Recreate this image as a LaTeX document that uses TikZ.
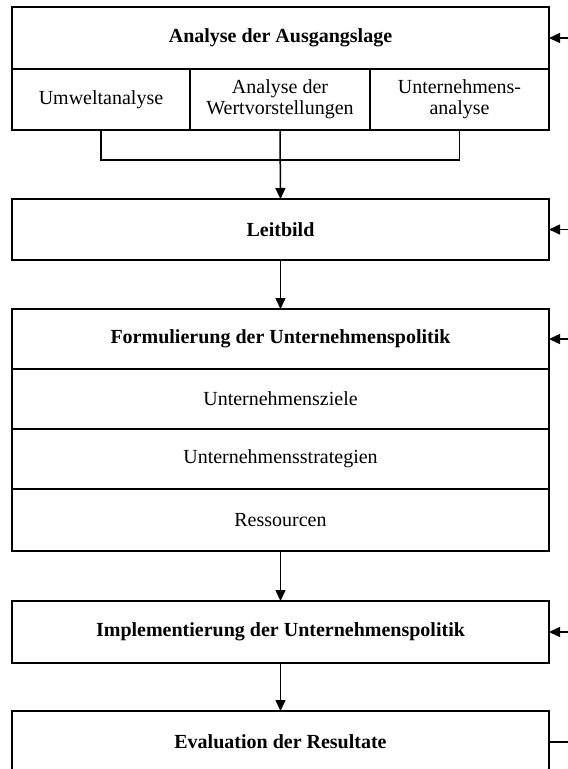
\documentclass[tikz,border=0pt]{standalone}
\usepackage{fontspec}
\setmainfont{Liberation Serif}
\usetikzlibrary{arrows.meta}
\begin{document}
\begin{tikzpicture}[x=1pt,y=-1pt,
  line width=1.5pt,
  cell/.style={draw, rectangle, inner sep=0pt, outer sep=0pt, align=center,
    font=\fontsize{20}{21}\selectfont},
  head/.style={cell, font=\fontsize{20}{21}\selectfont\bfseries},
  flow/.style={-{Triangle[length=11pt,width=10pt]}},
  back/.style={{Triangle[length=11pt,width=10pt]}-}]
\useasboundingbox (0,0) rectangle (568,769);
% Analyse der Ausgangslage
\node[head, minimum width=537pt, minimum height=62pt] (ausgang) at (280.5,38) {Analyse der Ausgangslage};
\node[cell, minimum width=178pt, minimum height=61pt] (umwelt) at (101,99.5) {Umweltanalyse};
\node[cell, minimum width=180pt, minimum height=61pt] (werte) at (280,99.5) {Analyse der\\Wertvorstellungen};
\node[cell, minimum width=179pt, minimum height=61pt] (intern) at (459.5,99.5) {Unternehmens-\\analyse};
% Leitbild
\node[head, minimum width=537pt, minimum height=61pt] (leitbild) at (280.5,229.5) {Leitbild};
% Formulierung der Unternehmenspolitik
\node[head, minimum width=537pt, minimum height=60pt] (formul) at (280.5,339) {Formulierung der Unternehmenspolitik};
\node[cell, minimum width=537pt, minimum height=60pt] (ziele) at (280.5,399) {Unternehmensziele};
\node[cell, minimum width=537pt, minimum height=60pt] (strat) at (280.5,459) {Unternehmensstrategien};
\node[cell, minimum width=537pt, minimum height=62pt] (ressourcen) at (280.5,520) {Ressourcen};
% Implementierung und Evaluation
\node[head, minimum width=537pt, minimum height=62pt] (implement) at (280.5,632) {Implementierung der Unternehmenspolitik};
\node[head, minimum width=537pt, minimum height=62pt] (eval) at (280.5,742) {Evaluation der Resultate};
% bracket joining the three analyses
\coordinate (join) at (280,160);
\draw (umwelt.south) |- (join) -| (intern.south);
\draw[flow] (werte.south) -- (leitbild.north);
% main flow
\draw[flow] (leitbild.south) -- (formul.north);
\draw[flow] (ressourcen.south) -- (implement.north);
\draw[flow] (implement.south) -- (eval.north);
% feedback loop entering from the right
\coordinate (loopx) at (590,0);
\draw[back] (ausgang.east) -- (ausgang.east -| loopx);
\draw[back] (leitbild.east) -- (leitbild.east -| loopx);
\draw[back] (formul.east) -- (formul.east -| loopx);
\draw[back] (implement.east) -- (implement.east -| loopx);
\draw (eval.east) -- (eval.east -| loopx);
\end{tikzpicture}
\end{document}
